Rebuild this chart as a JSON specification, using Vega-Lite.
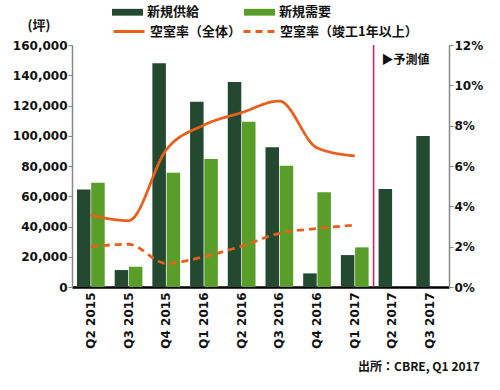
{
  "$schema": "https://vega.github.io/schema/vega-lite/v6.json",
  "width": 377,
  "height": 242,
  "autosize": {"type": "none"},
  "padding": {"left": 72, "top": 45, "right": 51, "bottom": 103},
  "background": "white",
  "config": {
    "view": {"stroke": null},
    "axis": {"labelFont": "DejaVu Sans", "labelFontWeight": "bold", "labelFontSize": 12, "labelColor": "#111", "grid": false}
  },
  "title": {"text": "出所：CBRE, Q1 2017", "orient": "bottom", "anchor": "end", "font": "Noto Sans CJK JP", "fontSize": 12, "fontWeight": "bold", "color": "#111", "dx": -3, "offset": 14},
  "datasets": {
    "bars": [
      {"q": "Q2 2015", "series": "新規供給", "value": 64500},
      {"q": "Q2 2015", "series": "新規需要", "value": 69000},
      {"q": "Q3 2015", "series": "新規供給", "value": 11200},
      {"q": "Q3 2015", "series": "新規需要", "value": 13400},
      {"q": "Q4 2015", "series": "新規供給", "value": 148000},
      {"q": "Q4 2015", "series": "新規需要", "value": 75600},
      {"q": "Q1 2016", "series": "新規供給", "value": 122500},
      {"q": "Q1 2016", "series": "新規需要", "value": 84600},
      {"q": "Q2 2016", "series": "新規供給", "value": 135500},
      {"q": "Q2 2016", "series": "新規需要", "value": 109300},
      {"q": "Q3 2016", "series": "新規供給", "value": 92400},
      {"q": "Q3 2016", "series": "新規需要", "value": 80200},
      {"q": "Q4 2016", "series": "新規供給", "value": 9000},
      {"q": "Q4 2016", "series": "新規需要", "value": 62600},
      {"q": "Q1 2017", "series": "新規供給", "value": 21100},
      {"q": "Q1 2017", "series": "新規需要", "value": 26200},
      {"q": "Q2 2017", "series": "新規供給", "value": 64800},
      {"q": "Q3 2017", "series": "新規供給", "value": 99800}
    ],
    "lines": [
      {"q": "Q2 2015", "type": "空室率（全体）", "rate": 0.0357},
      {"q": "Q3 2015", "type": "空室率（全体）", "rate": 0.0329},
      {"q": "Q4 2015", "type": "空室率（全体）", "rate": 0.068},
      {"q": "Q1 2016", "type": "空室率（全体）", "rate": 0.0803},
      {"q": "Q2 2016", "type": "空室率（全体）", "rate": 0.0865},
      {"q": "Q3 2016", "type": "空室率（全体）", "rate": 0.0922},
      {"q": "Q4 2016", "type": "空室率（全体）", "rate": 0.069},
      {"q": "Q1 2017", "type": "空室率（全体）", "rate": 0.065},
      {"q": "Q2 2015", "type": "空室率（竣工1年以上）", "rate": 0.02},
      {"q": "Q3 2015", "type": "空室率（竣工1年以上）", "rate": 0.0212},
      {"q": "Q4 2015", "type": "空室率（竣工1年以上）", "rate": 0.0117},
      {"q": "Q1 2016", "type": "空室率（竣工1年以上）", "rate": 0.015},
      {"q": "Q2 2016", "type": "空室率（竣工1年以上）", "rate": 0.0203},
      {"q": "Q3 2016", "type": "空室率（竣工1年以上）", "rate": 0.0266},
      {"q": "Q4 2016", "type": "空室率（竣工1年以上）", "rate": 0.029},
      {"q": "Q1 2017", "type": "空室率（竣工1年以上）", "rate": 0.0307}
    ]
  },
  "layer": [
    {
      "data": {"name": "bars"},
      "mark": {"type": "bar"},
      "encoding": {
        "x": {
          "field": "q", "type": "nominal",
          "scale": {"domain": ["Q2 2015", "Q3 2015", "Q4 2015", "Q1 2016", "Q2 2016", "Q3 2016", "Q4 2016", "Q1 2017", "Q2 2017", "Q3 2017"], "paddingInner": 0, "paddingOuter": 0},
          "axis": {"title": null, "labelAngle": -90, "labelPadding": 5, "ticks": false, "domainColor": "#000", "domainWidth": 2.5}
        },
        "xOffset": {"field": "series", "type": "nominal", "scale": {"domain": ["新規供給", "新規需要"], "paddingInner": 0.05, "paddingOuter": 0.35}},
        "y": {
          "field": "value", "type": "quantitative",
          "scale": {"domain": [0, 160000]},
          "axis": {"orient": "left", "values": [0, 20000, 40000, 60000, 80000, 100000, 120000, 140000, 160000], "format": ",.0f", "domainColor": "#888", "domainWidth": 1.5, "tickColor": "#888", "tickSize": 4, "labelPadding": 1, "title": "(坪)", "titleAngle": 0, "titleX": -45, "titleY": -20, "titleAlign": "left", "titleBaseline": "middle", "titleFont": "Noto Sans CJK JP", "titleFontSize": 13, "titleFontWeight": "bold", "titleColor": "#111"}
        },
        "color": {
          "field": "series", "type": "nominal",
          "scale": {"domain": ["新規供給", "新規需要"], "range": ["#234a30", "#5a9e2a"]},
          "legend": {"orient": "none", "legendX": 40, "legendY": -48.5, "direction": "horizontal", "title": null, "symbolType": "M-1,-0.22H1V0.22H-1Z", "symbolSize": 961, "symbolStrokeWidth": 0, "labelFont": "Noto Sans CJK JP", "labelFontSize": 13, "labelFontWeight": "bold", "labelColor": "#111", "labelOffset": 4, "columnPadding": 44, "padding": 0}
        }
      }
    },
    {
      "layer": [
        {
          "data": {"name": "lines"},
          "mark": {"type": "line", "interpolate": "monotone", "strokeWidth": 2.8, "color": "#e8601c"},
          "encoding": {
            "x": {"field": "q", "type": "nominal"},
            "y": {
              "field": "rate", "type": "quantitative",
              "scale": {"domain": [0, 0.12]},
              "axis": {"orient": "right", "values": [0, 0.02, 0.04, 0.06, 0.08, 0.1, 0.12], "format": ".0%", "title": null, "domainColor": "#888", "domainWidth": 1.5, "tickColor": "#888", "tickSize": 4, "labelPadding": 1}
            },
            "strokeDash": {
              "field": "type", "type": "nominal",
              "scale": {"domain": ["空室率（全体）", "空室率（竣工1年以上）"], "range": [[1, 0], [7, 5]]},
              "legend": {"orient": "none", "legendX": 40, "legendY": -30.5, "direction": "horizontal", "title": null, "symbolType": "stroke", "symbolSize": 961, "symbolStrokeWidth": 3, "symbolStrokeColor": "#e8601c", "labelFont": "Noto Sans CJK JP", "labelFontSize": 13, "labelFontWeight": "bold", "labelColor": "#111", "labelOffset": 4, "columnPadding": -20, "padding": 0}
            }
          }
        },
        {
          "data": {"values": [{"q": "Q2 2017"}]},
          "mark": {"type": "rule", "color": "#d81b60", "strokeWidth": 1.5},
          "encoding": {"x": {"field": "q", "type": "nominal", "bandPosition": 0}}
        },
        {
          "data": {"values": [{"q": "Q2 2017", "t": "▶予測値", "rate": 0.1126}]},
          "mark": {"type": "text", "align": "left", "baseline": "middle", "dx": 8, "font": "Noto Sans CJK JP", "fontSize": 12, "fontWeight": "bold", "color": "#111"},
          "encoding": {
            "x": {"field": "q", "type": "nominal", "bandPosition": 0},
            "y": {"field": "rate", "type": "quantitative"},
            "text": {"field": "t"}
          }
        }
      ]
    }
  ],
  "resolve": {"scale": {"y": "independent"}}
}
